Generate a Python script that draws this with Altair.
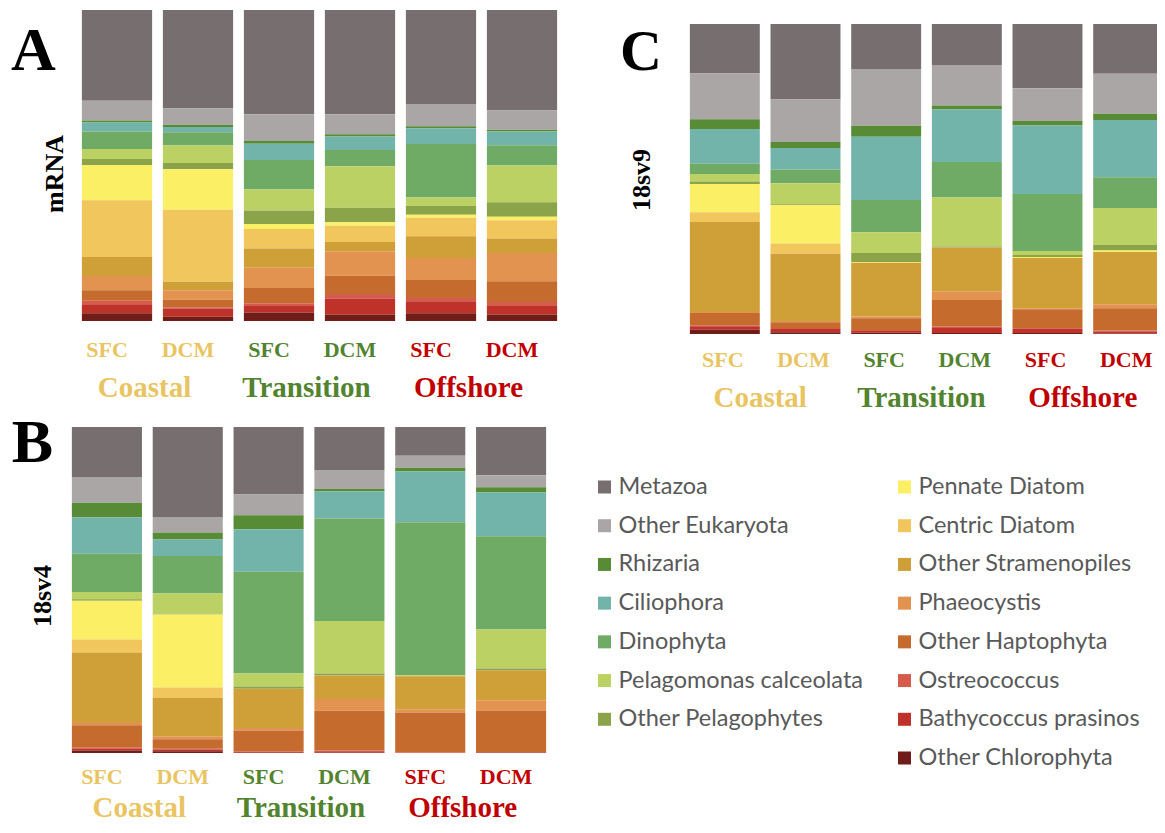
import altair as alt
import pandas as pd

# ---------------- data ----------------
taxa = ["Metazoa", "Other Eukaryota", "Rhizaria", "Ciliophora", "Dinophyta",
        "Pelagomonas calceolata", "Other Pelagophytes", "Pennate Diatom",
        "Centric Diatom", "Other Stramenopiles", "Phaeocystis", "Other Haptophyta",
        "Ostreococcus", "Bathycoccus prasinos", "Other Chlorophyta"]
taxa_colors = ["#776f6f", "#aaa6a5", "#588b35", "#72b3aa", "#70ab65",
               "#bcd163", "#8ba44a", "#fbef66", "#f1c65c", "#cf9f38",
               "#e39350", "#c46b2d", "#d55b4c", "#bf3229", "#701c18"]

samples = ["Coastal SFC", "Coastal DCM", "Transition SFC", "Transition DCM",
           "Offshore SFC", "Offshore DCM"]
depths = ["SFC", "DCM", "SFC", "DCM", "SFC", "DCM"]
sample_groups = ["Coastal", "Coastal", "Transition", "Transition", "Offshore", "Offshore"]
groups = ["Coastal", "Transition", "Offshore"]
group_colors = ["#e9c462", "#52832f", "#c00000"]

panel_letters = ["A", "B", "C"]
panel_names = ["mRNA", "18sv4", "18sv9"]

# relative abundance (%) per sample, taxa listed top -> bottom
mrna = [
    [29.2, 6.3, 0.7, 2.9, 5.6, 3.2, 1.9, 11.4, 18.2, 6.1, 4.6, 3.4, 1.1, 2.9, 2.5],
    [31.7, 5.2, 0.7, 1.7, 4.3, 5.6, 2.0, 13.0, 23.2, 2.7, 3.1, 2.4, 0.4, 2.6, 1.4],
    [33.5, 8.6, 0.9, 5.2, 9.5, 6.8, 4.3, 1.6, 6.3, 6.2, 6.5, 4.9, 0.6, 2.4, 2.7],
    [33.5, 6.4, 0.7, 4.4, 5.2, 13.3, 4.7, 1.1, 5.2, 3.0, 7.9, 5.8, 1.5, 5.1, 2.1],
    [30.3, 7.2, 0.6, 5.1, 17.3, 2.7, 2.8, 1.0, 6.0, 7.0, 7.1, 5.8, 1.0, 3.9, 2.5],
    [32.3, 6.2, 0.6, 4.4, 6.5, 11.8, 4.7, 1.1, 5.9, 4.6, 9.1, 6.7, 1.3, 2.7, 2.1],
]
v4 = [
    [15.3, 7.9, 4.5, 11.2, 11.7, 2.2, 0.5, 11.9, 4.0, 21.3, 1.0, 6.9, 0.3, 0.5, 0.8],
    [27.6, 4.8, 2.1, 5.1, 11.5, 6.2, 0.2, 22.4, 3.2, 11.8, 0.9, 2.9, 0.3, 0.5, 0.5],
    [20.7, 6.4, 4.3, 13.0, 31.2, 4.0, 0.7, 0.0, 0.0, 12.0, 0.8, 6.4, 0.2, 0.2, 0.1],
    [13.2, 5.8, 0.8, 8.3, 31.5, 16.1, 0.6, 0.0, 0.0, 7.2, 3.6, 12.2, 0.3, 0.4, 0.1],
    [8.8, 3.7, 1.1, 15.6, 46.9, 0.2, 0.1, 0.0, 0.0, 10.1, 1.0, 12.2, 0.1, 0.1, 0.0],
    [14.8, 3.7, 1.6, 13.4, 28.6, 12.0, 0.5, 0.0, 0.0, 9.2, 3.2, 12.7, 0.1, 0.1, 0.1],
]
v9 = [
    [16.0, 14.7, 3.2, 11.2, 3.3, 2.4, 0.8, 9.1, 3.2, 29.0, 0.3, 4.0, 0.3, 1.1, 1.4],
    [24.3, 13.7, 2.0, 6.9, 4.4, 6.8, 0.2, 12.4, 3.3, 21.7, 0.4, 1.9, 0.3, 1.0, 0.6],
    [14.5, 18.3, 3.5, 20.4, 10.4, 6.7, 2.9, 0.2, 0.0, 17.4, 0.5, 3.8, 0.3, 0.6, 0.4],
    [13.2, 13.1, 1.3, 16.9, 11.5, 15.8, 0.3, 0.0, 0.0, 14.3, 2.6, 8.6, 0.2, 1.9, 0.3],
    [20.7, 10.5, 1.5, 22.0, 18.4, 1.3, 0.6, 0.3, 0.0, 16.2, 0.3, 6.1, 0.2, 1.4, 0.3],
    [16.0, 12.9, 2.0, 18.5, 9.9, 11.9, 1.8, 0.5, 0.0, 16.8, 1.3, 7.2, 0.3, 0.6, 0.2],
]

legend_left = taxa[:7]
legend_right = taxa[7:]

# ---------------- layout (chart pixel space) ----------------
SERIF = "Liberation Serif"
LEG_FONT = "Lato"
PAD_IN, PAD_OUT = 0.133, 0.0665

panels = [
    dict(vals=mrna, xr=[68.5, 554.5], yr=[313, 2], dy=342, gy=389, dx=-10,
         letter=(25.5, 62, 62), name=(46.5, 166)),
    dict(vals=v4, xr=[58.5, 543.5], yr=[745, 419], dy=769, gy=809, dx=-5,
         letter=(24.5, 454, 62), name=(34.5, 588)),
    dict(vals=v9, xr=[676.5, 1160.5], yr=[326, 16], dy=352, gy=399, dx=-2,
         letter=(633, 62, 58), name=(633.5, 172)),
]

color_scale = alt.Scale(domain=taxa, range=taxa_colors)
layers = []

for i, p in enumerate(panels):
    rows = []
    for s_idx, s in enumerate(samples):
        for t_idx, t in enumerate(taxa):
            rows.append({"sample": s, "taxon": t, "value": p["vals"][s_idx][t_idx],
                         "rank": len(taxa) - 1 - t_idx})
    df = pd.DataFrame(rows)
    xs = alt.Scale(domain=samples, range=p["xr"], paddingInner=PAD_IN, paddingOuter=PAD_OUT)
    bars = alt.Chart(df).mark_bar(stroke=None).encode(
        x=alt.X("sample:N", scale=xs, axis=None),
        y=alt.Y("value:Q", stack="normalize", axis=None,
                scale=alt.Scale(domain=[0, 1], range=p["yr"], nice=False)),
        color=alt.Color("taxon:N", scale=color_scale, legend=None),
        order=alt.Order("rank:Q", sort="ascending"),
    )
    layers.append(bars)

    sdf = pd.DataFrame({"sample": samples, "depth": depths,
                        "col": [group_colors[groups.index(g)] for g in sample_groups]})
    dlab = alt.Chart(sdf).mark_text(font=SERIF, fontWeight="bold", fontSize=22,
                                    baseline="middle", align="center", dx=p["dx"]).encode(
        x=alt.X("sample:N", scale=xs, axis=None),
        y=alt.value(p["dy"]),
        text="depth:N",
        color=alt.Color("col:N", scale=None, legend=None),
    )
    layers.append(dlab)

    gdf = pd.DataFrame({"group": groups, "col": group_colors})
    gs = alt.Scale(domain=groups, range=p["xr"], paddingInner=0, paddingOuter=0)
    glab = alt.Chart(gdf).mark_text(font=SERIF, fontWeight="bold", fontSize=29,
                                    baseline="alphabetic", align="center", dx=p["dx"] - 3).encode(
        x=alt.X("group:N", scale=gs, axis=None),
        y=alt.value(p["gy"]),
        text="group:N",
        color=alt.Color("col:N", scale=None, legend=None),
    )
    layers.append(glab)

    lx, ly, lsize = p["letter"]
    letter = alt.Chart(pd.DataFrame({"t": [panel_letters[i]]})).mark_text(
        font=SERIF, fontWeight="bold", fontSize=lsize, color="black",
        align="center", baseline="alphabetic").encode(
        x=alt.value(lx), y=alt.value(ly), text="t:N")
    layers.append(letter)

    nx, ny = p["name"]
    name = alt.Chart(pd.DataFrame({"t": [panel_names[i]]})).mark_text(
        font=SERIF, fontWeight="bold", fontSize=26, color="black", angle=270,
        align="center", baseline="middle").encode(
        x=alt.value(nx), y=alt.value(ny), text="t:N")
    layers.append(name)

# ---------------- legend ----------------
leg_rows = []
for r, t in enumerate(legend_left):
    leg_rows.append({"taxon": t, "col": 0, "row": r})
for r, t in enumerate(legend_right):
    leg_rows.append({"taxon": t, "col": 1, "row": r})
leg_df = pd.DataFrame(leg_rows)
lxs = alt.Scale(domain=[0, 1], range=[596.5, 896.5], nice=False, zero=False)
lys = alt.Scale(domain=[0, 7], range=[479, 750], nice=False, zero=False)
leg_sq = alt.Chart(leg_df).mark_square(size=169, opacity=1).encode(
    x=alt.X("col:Q", scale=lxs, axis=None),
    y=alt.Y("row:Q", scale=lys, axis=None),
    color=alt.Color("taxon:N", scale=color_scale, legend=None),
)
leg_tx = alt.Chart(leg_df).mark_text(font=LEG_FONT, fontSize=23.5, color="#595959",
                                     align="left", baseline="middle", dx=14).encode(
    x=alt.X("col:Q", scale=lxs, axis=None),
    y=alt.Y("row:Q", scale=lys, axis=None),
    text="taxon:N",
)
layers += [leg_sq, leg_tx]

chart = alt.layer(*layers).resolve_scale(
    x="independent", y="independent", color="independent"
).properties(
    width=1149, height=817, padding=0, autosize=alt.AutoSizeParams(type="none")
).configure_view(stroke=None)

chart.save("out.html", embed_options={"renderer": "svg", "actions": False})
